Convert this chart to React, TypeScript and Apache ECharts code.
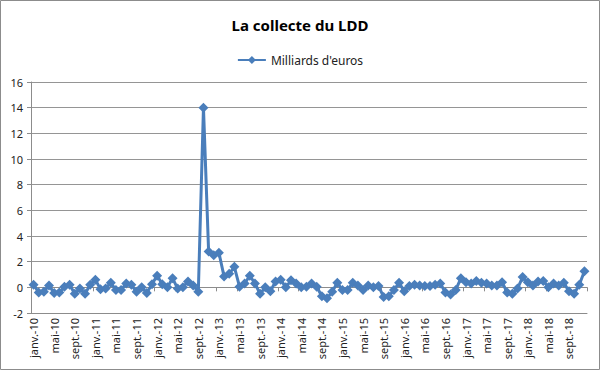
import React, { useEffect, useRef } from "react";
import * as echarts from "echarts";

const MONTHS = ["janv.", "févr.", "mars", "avr.", "mai", "juin", "juil.", "août", "sept.", "oct.", "nov.", "déc."];
const YEARS = ["10", "11", "12", "13", "14", "15", "16", "17", "18"];

const v2010 = [0.2, -0.4, -0.35, 0.15, -0.45, -0.4, 0.05, 0.2, -0.5, -0.1, -0.5, 0.2];
const v2011 = [0.6, -0.15, -0.1, 0.35, -0.2, -0.2, 0.3, 0.2, -0.35, 0.0, -0.45, 0.25];
const v2012 = [0.9, 0.25, 0.0, 0.7, -0.1, 0.0, 0.45, 0.15, -0.35, 14.0, 2.8, 2.5];
const v2013 = [2.7, 0.85, 1.05, 1.6, 0.05, 0.3, 0.9, 0.3, -0.5, 0.0, -0.3, 0.45];
const v2014 = [0.6, 0.0, 0.55, 0.3, 0.0, 0.05, 0.3, 0.05, -0.7, -0.85, -0.35, 0.35];
const v2015 = [-0.2, -0.2, 0.35, 0.15, -0.2, 0.15, 0.0, 0.1, -0.75, -0.7, -0.2, 0.35];
const v2016 = [-0.3, 0.1, 0.2, 0.15, 0.1, 0.1, 0.2, 0.3, -0.4, -0.55, -0.2, 0.7];
const v2017 = [0.4, 0.3, 0.5, 0.35, 0.3, 0.15, 0.15, 0.4, -0.4, -0.5, -0.1, 0.8];
const v2018 = [0.4, 0.15, 0.45, 0.5, 0.0, 0.3, 0.15, 0.35, -0.3, -0.5, 0.2, 1.25];

const values = [...v2010, ...v2011, ...v2012, ...v2013, ...v2014, ...v2015, ...v2016, ...v2017, ...v2018];
const categories: string[] = [];
YEARS.forEach((y) => MONTHS.forEach((m) => categories.push(`${m}-${y}`)));

const SERIES_NAME = "Milliards d'euros";
const TITLE = "La collecte du LDD";
const FONT = "Noto Sans";
const BLUE = "#4a7ebb";

export default function App() {
  const ref = useRef<HTMLDivElement>(null);
  useEffect(() => {
    const chart = echarts.init(ref.current!, null, { renderer: "svg" });
    chart.setOption({
      animation: false,
      backgroundColor: "#ffffff",
      title: {
        text: TITLE,
        left: "center",
        top: 12,
        textStyle: { fontFamily: FONT, fontSize: 15, fontWeight: "bold", color: "#000" },
      },
      legend: {
        top: 49,
        left: "center",
        itemWidth: 28,
        itemHeight: 10,
        itemGap: 6,
        textStyle: { fontFamily: FONT, fontSize: 12, color: "#222" },
        data: [SERIES_NAME],
      },
      graphic: [
        {
          type: "rect",
          shape: { x: 0.5, y: 0.5, width: 599, height: 369 },
          style: { fill: "none", stroke: "#8c8c8c", lineWidth: 1 },
          silent: true,
        },
      ],
      grid: { left: 31, right: 13, top: 82, bottom: 57 },
      xAxis: [
        {
          type: "category",
          data: categories,
          boundaryGap: true,
          position: "bottom",
          axisLine: { onZero: false, lineStyle: { color: "#8c8c8c", width: 1 } },
          axisTick: { show: false },
          axisLabel: {
            rotate: 90,
            interval: 3,
            fontFamily: FONT,
            fontSize: 11,
            color: "#222",
            margin: 5,
          },
        },
        {
          type: "category",
          data: categories,
          boundaryGap: true,
          position: "bottom",
          axisLine: { onZero: true, lineStyle: { color: "#8c8c8c", width: 1 } },
          axisTick: { show: true, interval: 3, length: 4, lineStyle: { color: "#8c8c8c" } },
          axisLabel: { show: false },
        },
      ],
      yAxis: {
        type: "value",
        min: -2,
        max: 16,
        interval: 2,
        axisLine: { show: true, lineStyle: { color: "#8c8c8c" } },
        axisTick: { show: true, length: 4, lineStyle: { color: "#8c8c8c" } },
        axisLabel: { fontFamily: FONT, fontSize: 11, color: "#222", margin: 8 },
        splitLine: { lineStyle: { color: "#959595", width: 1 } },
      },
      series: [
        {
          name: SERIES_NAME,
          type: "line",
          data: values,
          xAxisIndex: 0,
          symbol: "diamond",
          symbolSize: 10,
          showAllSymbol: true,
          lineStyle: { color: BLUE, width: 3 },
          itemStyle: { color: BLUE },
          z: 5,
        },
      ],
    });
    return () => chart.dispose();
  }, []);
  return (
    <div
      ref={ref}
      style={{ position: "fixed", left: 0, top: 0, width: 600, height: 370 }}
    />
  );
}
